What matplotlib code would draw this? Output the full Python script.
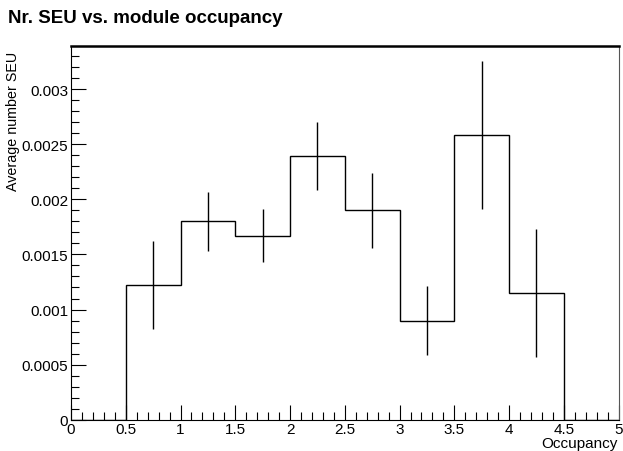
import numpy as np
import matplotlib.pyplot as plt
from matplotlib.ticker import MultipleLocator, FuncFormatter

plt.rcParams['font.family'] = ['Liberation Sans', 'DejaVu Sans']

# histogram bins (occupancy) and content
bin_edges = [0, 0.5, 1, 1.5, 2, 2.5, 3, 3.5, 4, 4.5, 5]
seu_avg = [0, 0.00122, 0.00180, 0.00167, 0.00239, 0.00190, 0.00090, 0.00258, 0.00115, 0]
seu_err = [0, 0.00040, 0.00027, 0.00024, 0.00031, 0.00034, 0.00031, 0.00067, 0.00058, 0]

edges = np.array(bin_edges)
vals = np.array(seu_avg)
errs = np.array(seu_err)
centers = 0.5 * (edges[:-1] + edges[1:])

fig = plt.figure(figsize=(6.23, 4.52), dpi=100)
ax = fig.add_axes([0.114, 0.069, 0.879, 0.827])

ax.stairs(vals, edges, color='black', lw=1.0)
filled = vals > 0
ax.vlines(centers[filled], vals[filled] - errs[filled], vals[filled] + errs[filled],
          color='black', lw=1.0)

ax.set_xlim(0, 5)
ax.set_ylim(0, 0.00339)

ax.xaxis.set_major_locator(MultipleLocator(0.5))
ax.xaxis.set_minor_locator(MultipleLocator(0.1))
ax.yaxis.set_major_locator(MultipleLocator(0.0005))
ax.yaxis.set_minor_locator(MultipleLocator(0.0001))

def fmt(v, pos):
    s = ('%.4f' % v).rstrip('0').rstrip('.')
    return '0' if s in ('0', '-0') else s

ax.xaxis.set_major_formatter(FuncFormatter(fmt))
ax.yaxis.set_major_formatter(FuncFormatter(fmt))

ax.tick_params(which='both', direction='in', top=False, right=False, labelsize=11, width=0.8)
ax.tick_params(which='major', length=11)
ax.tick_params(which='minor', length=5.5)
ax.tick_params(axis='x', pad=1.5)
ax.tick_params(axis='y', pad=2)

for s in ['left', 'bottom', 'right']:
    ax.spines[s].set_linewidth(0.8)
ax.spines['right'].set_color('#555555')
ax.spines['top'].set_linewidth(1.8)

# axis titles placed ROOT-style (right / top aligned)
fig.text(0.992, 0.003, 'Occupancy', fontsize=11, ha='right', va='bottom')
fig.text(0.021, 0.885, 'Average number SEU', fontsize=10.3, rotation=90,
         ha='center', va='top')

fig.text(0.013, 0.96, 'Nr. SEU vs. module occupancy', fontsize=13.5, fontweight='bold',
         ha='left', va='center')

fig.savefig('out.png', dpi=100)
